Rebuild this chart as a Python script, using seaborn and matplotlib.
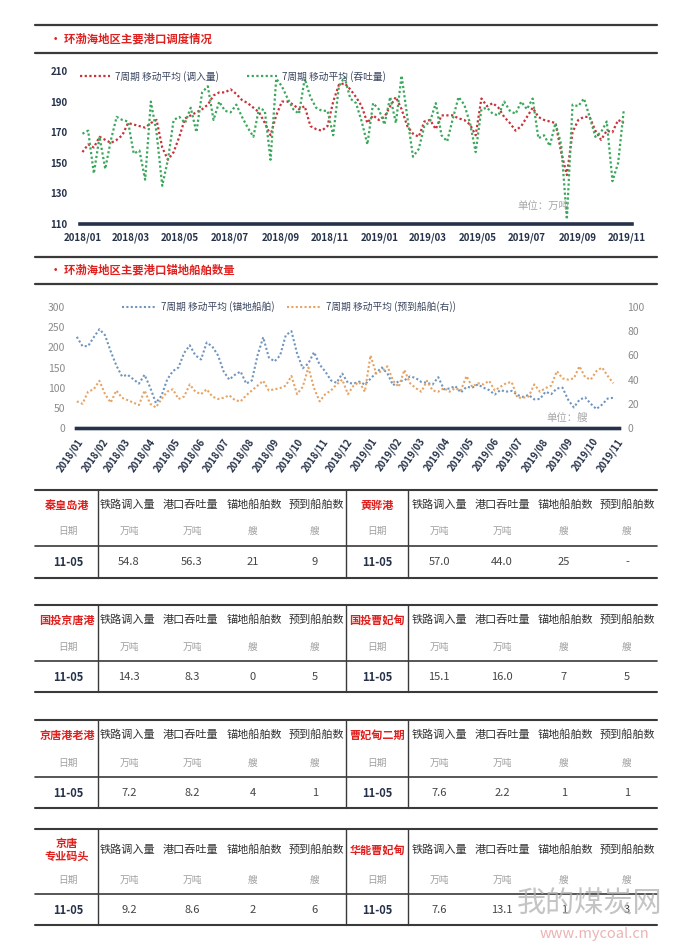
import pandas as pd
import seaborn as sns
import matplotlib.pyplot as plt

# ---- data ----
weeks = pd.date_range('2018-01-01', periods=96, freq='7D')

# chart 1: 7-week moving averages, 万吨
rail_in = [157, 162, 160, 167, 165, 163, 165, 168, 176, 175, 174, 173, 176, 178, 160, 152,
           157, 167, 179, 181, 183, 185, 188, 194, 196, 196, 198, 195, 191, 189, 186, 183,
           176, 168, 181, 190, 190, 188, 185, 187, 174, 172, 171, 174, 190, 201, 202, 198,
           193, 187, 176, 181, 178, 180, 187, 193, 185, 174, 169, 167, 177, 178, 172, 181,
           181, 181, 179, 178, 175, 168, 192, 187, 189, 186, 180, 176, 171, 174, 180, 186,
           180, 178, 177, 176, 157, 142, 170, 178, 180, 180, 171, 165, 171, 170, 178, 176]
throughput = [169, 171, 143, 167, 146, 165, 180, 178, 177, 156, 158, 139, 190, 170, 135, 152,
              178, 180, 176, 186, 170, 196, 200, 178, 190, 184, 183, 188, 180, 173, 167, 186,
              184, 152, 205, 200, 192, 185, 182, 205, 193, 186, 184, 184, 168, 200, 206, 192,
              189, 177, 162, 189, 185, 175, 193, 176, 207, 180, 154, 159, 174, 177, 189, 168,
              164, 179, 193, 188, 176, 157, 185, 186, 182, 181, 190, 184, 182, 190, 185, 192,
              166, 168, 161, 176, 162, 113, 188, 187, 192, 180, 167, 170, 177, 138, 150, 185]

# chart 2: ships
anchored = [226, 203, 203, 225, 245, 230, 190, 155, 128, 132, 121, 110, 132, 100, 62, 80,
            120, 141, 150, 186, 205, 180, 170, 212, 202, 180, 140, 120, 132, 140, 110, 118,
            180, 225, 175, 165, 180, 230, 240, 185, 148, 160, 188, 157, 140, 118, 112, 135,
            112, 110, 115, 108, 122, 137, 150, 135, 106, 116, 118, 128, 124, 114, 112, 108,
            126, 96, 98, 104, 88, 102, 100, 108, 100, 94, 83, 94, 90, 92, 82, 77,
            82, 71, 72, 90, 84, 98, 100, 70, 51, 70, 76, 60, 47, 58, 73, 75]
expected = [22, 20, 30, 32, 39, 28, 21, 31, 25, 23, 21, 19, 31, 20, 17, 24,
            30, 32, 24, 26, 36, 30, 28, 32, 26, 24, 25, 27, 23, 22, 27, 31,
            35, 39, 31, 32, 33, 35, 43, 28, 34, 50, 33, 22, 28, 31, 36, 40,
            28, 35, 38, 30, 60, 45, 47, 51, 39, 34, 48, 37, 33, 30, 39, 31,
            30, 33, 30, 33, 31, 43, 34, 37, 36, 39, 31, 34, 37, 38, 25, 25,
            26, 36, 30, 33, 35, 47, 41, 40, 41, 51, 42, 40, 47, 50, 43, 37]

# tables
col_heads = ['铁路调入量', '港口吞吐量', '锚地船舶数', '预到船舶数']
col_units = ['日期', '万吨', '万吨', '艘', '艘']
date_label = '11-05'
ports = [('秦皇岛港', '黄骅港'), ('国投京唐港', '国投曹妃甸'),
         ('京唐港老港', '曹妃甸二期'), ('京唐\n专业码头', '华能曹妃甸')]
port_vals = [(['54.8', '56.3', '21', '9'], ['57.0', '44.0', '25', '-']),
             (['14.3', '8.3', '0', '5'], ['15.1', '16.0', '7', '5']),
             (['7.2', '8.2', '4', '1'], ['7.6', '2.2', '1', '1']),
             (['9.2', '8.6', '2', '6'], ['7.6', '13.1', '1', '3'])]

# ---- style ----
sns.set_style('white')
plt.rcParams['font.family'] = ['Noto Sans CJK SC', 'DejaVu Sans']

red = '#c8323a'
green = '#3aa85c'
blue = '#6f95bd'
orange = '#e5a466'
navy = '#26324a'
dark = '#3a3a3a'
title_red = '#e0201e'
dots = (0, (1, 1.1))

W, H = 687, 946
fig = plt.figure(figsize=(W / 100, H / 100), dpi=100)


def box(l, t, r, b):
    return [l / W, 1 - b / H, (r - l) / W, (b - t) / H]


ov = fig.add_axes([0, 0, 1, 1])
ov.set_xlim(0, W)
ov.set_ylim(H, 0)
ov.axis('off')


def header(y_top, y_bot, title):
    ov.plot([35, 657], [y_top, y_top], color=dark, lw=1.6)
    ov.plot([35, 657], [y_bot, y_bot], color=dark, lw=1.6)
    ov.text(50, (y_top + y_bot) / 2, '• ' + title, color=title_red, fontsize=8.2,
            fontweight='bold', va='center')


header(25, 53, '环渤海地区主要港口调度情况')
header(257, 284, '环渤海地区主要港口锚地船舶数量')

# ---- chart 1 ----
ax1 = fig.add_axes(box(80, 71, 632, 224))
df1 = pd.DataFrame({'week': weeks, 'rail': rail_in, 'thr': throughput})
sns.lineplot(data=df1, x='week', y='rail', ax=ax1, color=red, lw=1.6, linestyle=dots,
             label='7周期 移动平均 (调入量)')
sns.lineplot(data=df1, x='week', y='thr', ax=ax1, color=green, lw=1.6, linestyle=dots,
             label='7周期 移动平均 (吞吐量)')
ax1.set_ylim(110, 210)
ax1.set_yticks(range(110, 211, 20))
ax1.set_xlim(pd.Timestamp('2017-12-29'), pd.Timestamp('2019-11-07'))
t1 = pd.date_range('2018-01-01', '2019-11-01', freq='2MS')
ax1.set_xticks(t1)
ax1.set_xticklabels([t.strftime('%Y/%m') for t in t1])
ax1.set_xlabel('')
ax1.set_ylabel('')
for s in ['top', 'left', 'right']:
    ax1.spines[s].set_visible(False)
ax1.spines['bottom'].set_color(navy)
ax1.spines['bottom'].set_linewidth(2.6)
ax1.tick_params(length=0, labelsize=7, labelcolor=navy)
ax1.tick_params(axis='x', pad=6)
ax1.tick_params(axis='y', pad=9)
for lab in ax1.get_xticklabels() + ax1.get_yticklabels():
    lab.set_fontweight('bold')
ax1.patch.set_alpha(0)
ax1.legend(loc='center left', bbox_to_anchor=(0, 0.967), ncol=2, frameon=False,
           fontsize=7, handlelength=3.1, handletextpad=0.5, columnspacing=2.9,
           borderpad=0, borderaxespad=0, labelcolor='#3a4660')
ax1.text(0.84, 0.12, '单位：万吨', transform=ax1.transAxes, ha='center', va='center',
         fontsize=7.5, color='#a8a8a8')

# ---- chart 2 ----
ax2 = fig.add_axes(box(76, 307, 619, 428))
df2 = pd.DataFrame({'week': weeks, 'anch': anchored, 'exp': expected})
sns.lineplot(data=df2, x='week', y='anch', ax=ax2, color=blue, lw=1.5, linestyle=dots,
             label='7周期 移动平均 (锚地船舶)', legend=False)
ax2r = ax2.twinx()
sns.lineplot(data=df2, x='week', y='exp', ax=ax2r, color=orange, lw=1.5, linestyle=dots,
             label='7周期 移动平均 (预到船舶(右))', legend=False)
ax2.set_ylim(0, 300)
ax2r.set_ylim(0, 100)
ax2.set_yticks(range(0, 301, 50))
ax2r.set_yticks(range(0, 101, 20))
ax2.set_xlim(pd.Timestamp('2017-12-31'), pd.Timestamp('2019-11-04'))
t2 = pd.date_range('2018-01-01', '2019-11-01', freq='MS')
ax2.set_xticks(t2)
ax2.set_xticklabels([t.strftime('%Y/%m') for t in t2], rotation=55, ha='right',
                    rotation_mode='anchor', fontweight='bold')
for a in (ax2, ax2r):
    a.set_xlabel('')
    a.set_ylabel('')
    for s in ['top', 'left', 'right']:
        a.spines[s].set_visible(False)
    a.spines['bottom'].set_color(navy)
    a.spines['bottom'].set_linewidth(2.4)
ax2.tick_params(axis='x', length=4, width=1.2, color=navy, labelsize=7, labelcolor=navy, pad=2)
ax2.tick_params(axis='y', length=0, labelsize=7.5, labelcolor='#8a8a8a', pad=8)
ax2r.tick_params(axis='y', length=0, labelsize=7.5, labelcolor='#8a8a8a', pad=6)
h1, l1 = ax2.get_legend_handles_labels()
h2, l2 = ax2r.get_legend_handles_labels()
ax2r.legend(h1 + h2, l1 + l2, loc='center left', bbox_to_anchor=(0.085, 1.0), ncol=2,
            frameon=False, fontsize=7, handlelength=3.6, handletextpad=0.4,
            columnspacing=1.3, borderpad=0, borderaxespad=0, labelcolor='#3a4660')
ax2r.text(0.905, 0.08, '单位：艘', transform=ax2.transAxes, ha='center', va='center',
          fontsize=7.5, color='#a8a8a8')

# ---- tables ----
name_x = [65, 377]
col_x = [[127, 190, 254, 316], [439, 502, 565, 627]]
unit_x = [[68, 129, 192, 253, 315], [377, 439, 502, 564, 627]]
rows = [(490, 505, 531, 546, 562, 578),
        (605, 620, 647, 661, 677, 692),
        (720, 735, 763, 777, 793, 808),
        (829, 850, 880, 894, 910, 925)]

for (top, hy, uy, mid, vy, bot), names, vals in zip(rows, ports, port_vals):
    ov.plot([35, 657], [top, top], color=dark, lw=1.5)
    ov.plot([35, 657], [mid, mid], color=dark, lw=1.2)
    ov.plot([35, 657], [bot, bot], color=dark, lw=1.5)
    for vx in (98, 346, 408):
        ov.plot([vx, vx], [top, bot], color=dark, lw=1.0)
    for side in range(2):
        ov.text(name_x[side] if side else 67, hy, names[side], color=title_red, fontsize=8,
                fontweight='bold', ha='center', va='center', linespacing=1.0)
        for cx, txt in zip(col_x[side], col_heads):
            ov.text(cx, hy, txt, color='#333333', fontsize=8, ha='center', va='center')
        for cx, txt in zip(unit_x[side], col_units):
            ov.text(cx, uy, txt, color='#a0a0a0', fontsize=7, ha='center', va='center')
        ov.text(unit_x[side][0], vy, date_label, color=navy, fontsize=8, fontweight='bold',
                ha='center', va='center')
        for cx, txt in zip(unit_x[side][1:], vals[side]):
            ov.text(cx, vy, txt, color='#444444', fontsize=8, ha='center', va='center')

# watermark
ov.text(590, 905, '我的煤炭网', color='#b0b0b0', alpha=0.75, fontsize=21,
        ha='center', va='center')
ov.text(594, 934, 'www.mycoal.cn', color='#e8a0a0', alpha=0.8, fontsize=10.5,
        ha='center', va='center')

fig.savefig('out.png', dpi=100)
